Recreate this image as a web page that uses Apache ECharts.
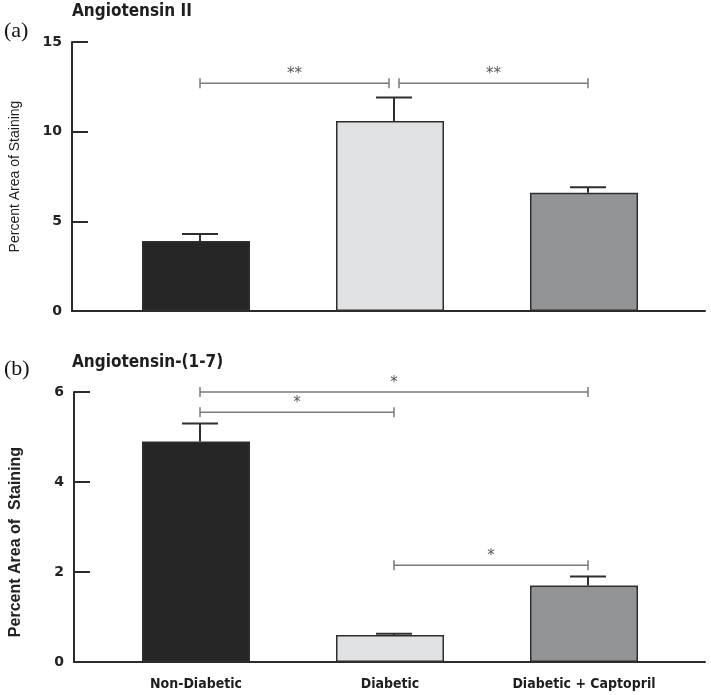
<!DOCTYPE html>
<html>
<head>
<meta charset="utf-8">
<script src="https://cdn.jsdelivr.net/npm/echarts@6/dist/echarts.min.js"></script>
<style>html,body{margin:0;padding:0;background:#fff;}#chart{width:711px;height:695px;}</style>
</head>
<body>
<div id="chart"></div>
<script>
// ---- data ----
const categories = ['Non-Diabetic', 'Diabetic', 'Diabetic + Captopril'];
const ang2Mean = [3.9, 10.6, 6.6];
const ang2Err = [0.4, 1.3, 0.3];
const ang17Mean = [4.9, 0.6, 1.7];
const ang17Err = [0.4, 0.03, 0.2];
const ticksA = [0, 5, 10, 15];
const ticksB = [0, 2, 4, 6];
// brackets: [fromCategory, toCategory, yValue, label]
const ang2Brackets = [[0, 1, 12.7, '**'], [1, 2, 12.7, '**']];
const ang17Brackets = [[0, 2, 6.0, '*'], [0, 1, 5.55, '*'], [1, 2, 2.15, '*']];
const titles = ['Angiotensin II', 'Angiotensin-(1-7)'];
const panelTags = ['(a)', '(b)'];
const yName = ['Percent Area of Staining', 'Percent Area of  Staining'];

// ---- styles ----
const barColors = ['#262626', '#e0e1e3', '#939496'];
const gothic = '"Liberation Sans Narrow", "DejaVu Sans Condensed", "Liberation Sans", sans-serif';
const axisColor = '#2b2b2b';

const chart = echarts.init(document.getElementById('chart'));

function frameY(grid, ticks, name, nameStyle) {
  return {
    gridIndex: grid, type: 'value',
    min: ticks[0], max: ticks[ticks.length - 1], interval: ticks[1] - ticks[0],
    axisLine: { show: true, lineStyle: { color: axisColor, width: 2 } },
    axisTick: { show: true, inside: true, length: 16, lineStyle: { color: axisColor, width: 2 } },
    axisLabel: { margin: 10, fontFamily: '"DejaVu Sans", sans-serif', fontWeight: 'bold', fontSize: 14, color: '#222' },
    splitLine: { show: false },
    name: name, nameLocation: 'middle', nameGap: 50,
    nameTextStyle: Object.assign({ fontFamily: '"Liberation Sans", Arial, sans-serif', fontSize: 14, color: '#222' }, nameStyle || {})
  };
}
function hiddenY(grid, ticks) {
  return { gridIndex: grid, type: 'value', min: ticks[0], max: ticks[ticks.length - 1], interval: ticks[1] - ticks[0], show: false };
}
function frameX(grid) {
  return { gridIndex: grid, type: 'value', min: 0, max: 1,
    axisLine: { show: true, onZero: false, lineStyle: { color: axisColor, width: 2 } },
    axisTick: { show: false }, axisLabel: { show: false }, splitLine: { show: false } };
}

function errSeries(xi, means, errs) {
  return {
    type: 'custom', xAxisIndex: xi, yAxisIndex: xi, z: 5,
    data: means.map((m, i) => [i, m, errs[i]]),
    encode: { x: 0, y: 1 },
    renderItem: function (params, api) {
      const i = api.value(0), m = api.value(1), e = api.value(2);
      const base = api.coord([i, m]);
      const top = api.coord([i, m + e]);
      const x = base[0] + 4;
      const st = { stroke: '#2e2e2e', lineWidth: 2 };
      return { type: 'group', children: [
        { type: 'line', shape: { x1: x, y1: base[1], x2: x, y2: top[1] }, style: st },
        { type: 'line', shape: { x1: x - 18, y1: top[1], x2: x + 18, y2: top[1] }, style: st }
      ] };
    }
  };
}

function bracketSeries(xi, brackets) {
  return {
    type: 'custom', xAxisIndex: xi, yAxisIndex: xi, z: 6, clip: false,
    data: brackets.map(b => [b[0], b[2], b[1], b[3]]),
    encode: { x: 0, y: 1 },
    renderItem: function (params, api) {
      const b = brackets[params.dataIndex];
      const p1 = api.coord([b[0], b[2]]);
      const p2 = api.coord([b[1], b[2]]);
      let x1 = p1[0] + 4, x2 = p2[0] + 4;
      const y = p1[1];
      brackets.forEach((o, k) => {
        if (k === params.dataIndex || o[2] !== b[2]) return;
        if (o[0] === b[1]) x2 -= 5;
        if (o[1] === b[0]) x1 += 5;
      });
      const st = { stroke: '#7a7a7a', lineWidth: 1.5 };
      return { type: 'group', children: [
        { type: 'line', shape: { x1: x1, y1: y, x2: x2, y2: y }, style: st },
        { type: 'line', shape: { x1: x1, y1: y - 5, x2: x1, y2: y + 5 }, style: st },
        { type: 'line', shape: { x1: x2, y1: y - 5, x2: x2, y2: y + 5 }, style: st },
        { type: 'text', x: (x1 + x2) / 2, y: y - 9,
          style: { text: b[3], fill: '#555', font: '15px "DejaVu Sans", sans-serif', textAlign: 'center', textVerticalAlign: 'middle' } }
      ] };
    }
  };
}

function barSeries(xi, means) {
  return {
    type: 'bar', xAxisIndex: xi, yAxisIndex: xi, barWidth: 108, z: 3,
    data: means.map((v, i) => ({ value: v, itemStyle: { color: barColors[i] } })),
    itemStyle: { borderColor: '#2e2e2e', borderWidth: 1.5 }
  };
}

const titleStyle = { fontFamily: gothic, fontWeight: 'bold', fontSize: 17, color: '#1e1e1e' };
const tagStyle = { fontFamily: '"Liberation Serif", "DejaVu Serif", serif', fontWeight: 'normal', fontSize: 22, color: '#111' };

chart.setOption({
  animation: false,
  backgroundColor: '#ffffff',
  title: [
    { text: titles[0], left: 72, top: 3, textStyle: titleStyle, padding: 0 },
    { text: panelTags[0], left: 4, top: 20, textStyle: tagStyle, padding: 0 },
    { text: titles[1], left: 72, top: 354, textStyle: titleStyle, padding: 0 },
    { text: panelTags[1], left: 4, top: 358, textStyle: tagStyle, padding: 0 }
  ],
  grid: [
    { left: 72, right: 6, top: 42, height: 269 },
    { left: 99, width: 582, top: 42, height: 269 },
    { left: 72, right: 6, top: 392, height: 270 },
    { left: 99, width: 582, top: 392, height: 270 }
  ],
  xAxis: [
    frameX(0),
    { gridIndex: 1, type: 'category', data: categories, show: false },
    frameX(2),
    { gridIndex: 3, type: 'category', data: categories,
      axisLine: { show: false }, axisTick: { show: false },
      axisLabel: { interval: 0, margin: 15, fontFamily: gothic, fontWeight: 'bold', fontSize: 14, color: '#1e1e1e' } }
  ],
  yAxis: [
    frameY(0, ticksA, yName[0]),
    hiddenY(1, ticksA),
    frameY(2, ticksB, yName[1], { fontSize: 16, fontWeight: 'bold', padding: [0, 30, 0, 0] }),
    hiddenY(3, ticksB)
  ],
  series: [
    barSeries(1, ang2Mean),
    errSeries(1, ang2Mean, ang2Err),
    bracketSeries(1, ang2Brackets),
    barSeries(3, ang17Mean),
    errSeries(3, ang17Mean, ang17Err),
    bracketSeries(3, ang17Brackets)
  ]
});
</script>
</body>
</html>
